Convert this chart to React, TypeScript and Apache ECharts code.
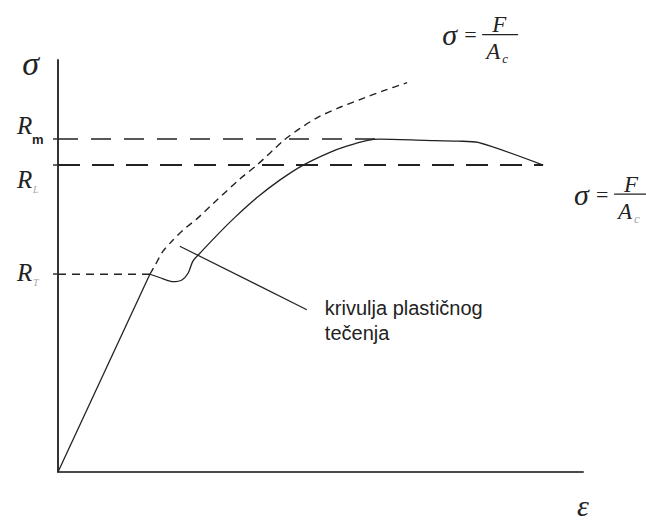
import React, { useEffect, useRef } from 'react';
import * as echarts from 'echarts';

const SERIF = '"Liberation Serif", "Times New Roman", serif';
const SANS = '"Liberation Sans", Arial, sans-serif';
const INK = '#222222';
const GREY = '#a8a8a8';

// axis ranges (arbitrary strain / stress units)
const strainRange = [0, 100];
const stressRange = [0, 100];

// characteristic stress levels: R_m, R_L, R_T
const levelValues = [80.8, 74.5, 48];
const levelSubs = ['m', 'L', 'T'];
const levelLineEnds = [61.3, 92.4, 17.5];

// elastic part (straight line up to the yield point)
const elasticStrain = [0, 17.5];
const elasticStress = [0, 48];

// engineering curve after yielding (yield drop, hardening, necking)
const engStrain = [17.5, 20.0, 21.9, 23.6, 24.8, 25.7, 27.4, 30.3, 33.7, 37.9, 42.3, 46.7, 51.8, 55.0, 59.0, 61.3, 69.9, 76.2, 80.0, 92.4];
const engStress = [48, 46.9, 46.2, 46.6, 48.3, 51.2, 53.6, 57.5, 61.8, 66.6, 70.9, 74.5, 77.6, 79.1, 80.5, 80.8, 80.5, 80.3, 80.0, 74.5];

// true stress curve (dashed)
const trueStrain = [17.5, 18.5, 20.0, 21.9, 23.8, 26.5, 29.5, 34.7, 37.9, 43.0, 46.1, 49.5, 53.3, 57.5, 61.9, 66.5];
const trueStress = [48, 50.2, 53.6, 56.3, 58.7, 61.5, 65.1, 71.2, 74.5, 80.5, 83.4, 86.1, 88.3, 90.4, 92.5, 94.5];

// annotation pointer
const pointerStrain = [23.2, 47.4];
const pointerStress = [54.8, 39.4];
const pointerText = 'krivulja plastičnog\ntečenja';

const pairs = (xs: number[], ys: number[]) => xs.map((x, i) => [x, ys[i]]);

function txt(x: number, y: number, text: string, font: string, fill = INK, align = 'left') {
  return {
    type: 'text',
    x,
    y,
    silent: true,
    style: {
      text,
      font,
      fill,
      textAlign: align,
      align,
      textVerticalAlign: 'middle',
      verticalAlign: 'middle',
    },
  };
}

function formula(ox: number, oy: number, subColor: string) {
  return {
    type: 'group',
    x: ox,
    y: oy,
    children: [
      txt(-1, 0, 'σ', `italic 30px ${SERIF}`),
      txt(21, 0, '=', `22px ${SERIF}`),
      {
        type: 'line',
        silent: true,
        shape: { x1: 39, y1: 0, x2: 75, y2: 0 },
        style: { stroke: INK, lineWidth: 1.3 },
      },
      txt(49, -10, 'F', `italic 23px ${SERIF}`),
      txt(43, 17, 'A', `italic 23px ${SERIF}`),
      txt(59, 24, 'c', `italic 13px ${SERIF}`, subColor),
    ],
  };
}

const labelStyle = [
  { rDy: -13.5, sDx: 15, sDy: 0, font: `bold 13px ${SANS}`, color: INK },
  { rDy: 14, sDx: 16, sDy: 24, font: `italic 10px ${SERIF}`, color: GREY },
  { rDy: -1.5, sDx: 16, sDy: 8, font: `italic 10px ${SERIF}`, color: GREY },
];

export default function App() {
  const ref = useRef<HTMLDivElement>(null);

  useEffect(() => {
    const chart = echarts.init(ref.current!, null, { renderer: 'svg' });

    const hLine = (y: number, xEnd: number, dash: number[], width: number) => ({
      type: 'line',
      data: [[strainRange[0], y], [xEnd, y]],
      symbol: 'none',
      silent: true,
      clip: false,
      lineStyle: { color: INK, width, type: dash },
    });

    const dashes = [[20, 13], [22, 12], [8, 6]];
    const widths = [1.5, 2, 1.5];

    chart.setOption({
      animation: false,
      backgroundColor: '#ffffff',
      grid: { left: 58, top: 60, right: 63, bottom: 44 },
      xAxis: {
        type: 'value',
        min: strainRange[0],
        max: strainRange[1],
        axisLine: { show: true, lineStyle: { color: '#4a4a4a', width: 2 } },
        axisTick: { show: false },
        axisLabel: { show: false },
        splitLine: { show: false },
        name: 'ε',
        nameLocation: 'end',
        nameGap: -6,
        nameTextStyle: {
          fontFamily: SERIF,
          fontStyle: 'italic',
          fontSize: 30,
          color: INK,
          align: 'left',
          verticalAlign: 'top',
          padding: [18, 0, 0, 0],
        },
      },
      yAxis: {
        type: 'value',
        min: stressRange[0],
        max: stressRange[1],
        axisLine: { show: true, lineStyle: { color: '#333333', width: 2 } },
        axisTick: {
          show: true,
          customValues: levelValues,
          length: 5,
          lineStyle: { color: '#333333', width: 1.5 },
        },
        axisLabel: { show: false },
        splitLine: { show: false },
        name: 'σ',
        nameLocation: 'end',
        nameGap: -3,
        nameTextStyle: {
          fontFamily: SERIF,
          fontStyle: 'italic',
          fontSize: 34,
          color: INK,
          align: 'right',
          verticalAlign: 'middle',
          padding: [0, 19, 0, 0],
        },
      },
      series: [
        ...levelValues.map((v, i) => hLine(v, levelLineEnds[i], dashes[i], widths[i])),
        {
          type: 'line',
          name: 'elastic',
          data: pairs(elasticStrain, elasticStress),
          symbol: 'none',
          silent: true,
          lineStyle: { color: INK, width: 1.3 },
        },
        {
          type: 'line',
          name: 'engineering',
          data: pairs(engStrain, engStress),
          symbol: 'none',
          smooth: 0.25,
          silent: true,
          lineStyle: { color: INK, width: 1.3 },
        },
        {
          type: 'line',
          name: 'true',
          data: pairs(trueStrain, trueStress),
          symbol: 'none',
          smooth: 0.25,
          silent: true,
          lineStyle: { color: INK, width: 1.4, type: [7, 5] },
        },
        {
          type: 'line',
          name: 'pointer',
          data: pairs(pointerStrain, pointerStress),
          symbol: 'none',
          silent: true,
          lineStyle: { color: INK, width: 1.2 },
        },
      ],
    });

    const px = (x: number, y: number) =>
      chart.convertToPixel({ gridIndex: 0 }, [x, y]) as number[];

    const graphics: any[] = [];
    levelValues.forEach((v, i) => {
      const [, yy] = px(0, v);
      const s = labelStyle[i];
      graphics.push({
        type: 'group',
        x: 17,
        y: yy,
        children: [
          txt(0, s.rDy, 'R', `italic 25px ${SERIF}`),
          txt(s.sDx, s.sDy, levelSubs[i], s.font, s.color),
        ],
      });
    });

    const trueEnd = px(trueStrain[trueStrain.length - 1], trueStress[trueStress.length - 1]);
    graphics.push(formula(trueEnd[0] + 36, trueEnd[1] - 48, INK));
    const engEnd = px(engStrain[engStrain.length - 1], engStress[engStress.length - 1]);
    graphics.push(formula(engEnd[0] + 32, engEnd[1] + 29, GREY));

    const pEnd = px(pointerStrain[1], pointerStress[1]);
    graphics.push({
      type: 'text',
      x: pEnd[0] + 18,
      y: pEnd[1] - 14,
      silent: true,
      style: {
        text: pointerText,
        font: `20px ${SANS}`,
        lineHeight: 25,
        fill: INK,
        textAlign: 'left',
        align: 'left',
        textVerticalAlign: 'top',
        verticalAlign: 'top',
      },
    });

    chart.setOption({ graphic: graphics });

    return () => chart.dispose();
  }, []);

  return (
    <div
      ref={ref}
      style={{ position: 'fixed', left: 0, top: 0, width: 646, height: 520, background: '#fff' }}
    />
  );
}
